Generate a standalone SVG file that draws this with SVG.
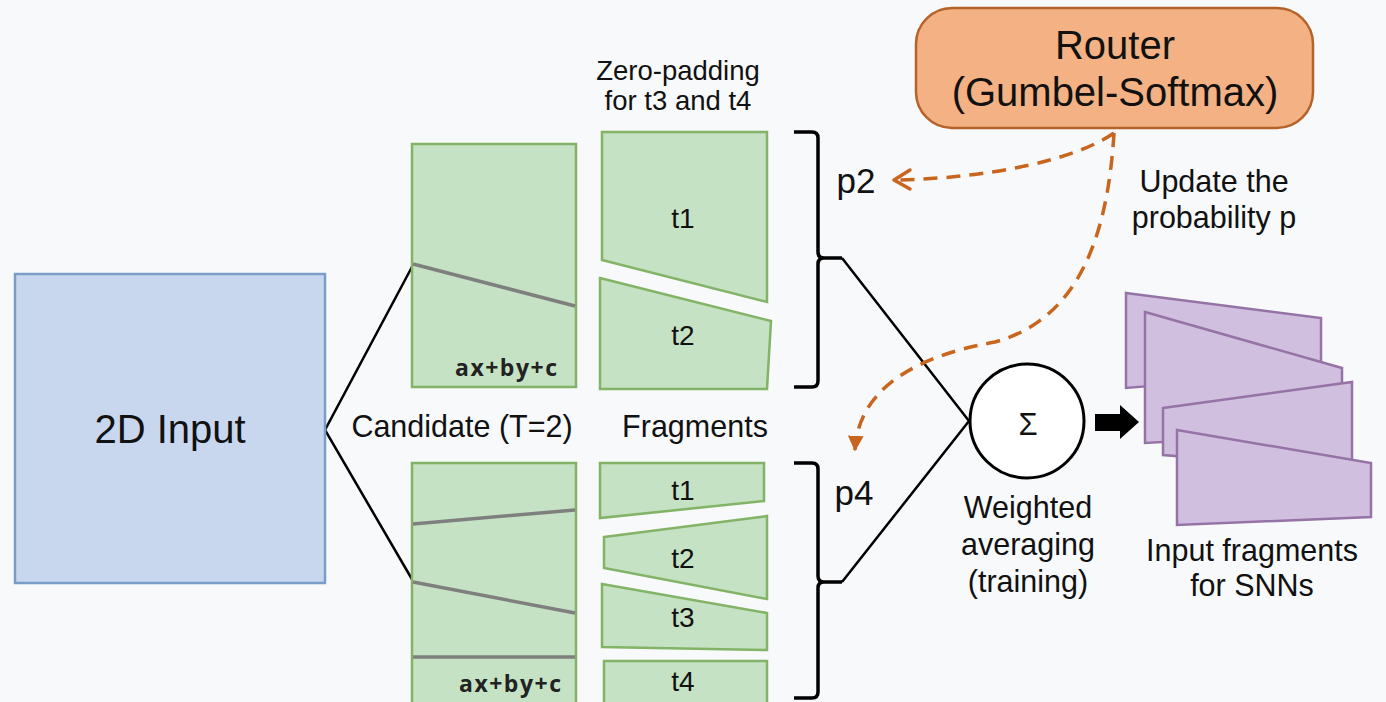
<svg xmlns="http://www.w3.org/2000/svg" width="1386" height="702" viewBox="0 0 1386 702">
  <defs>
    <style>
      .txt { font-family: "Liberation Sans", Arial, sans-serif; fill: #111; text-anchor: middle; }
      .eq { font-family: "Open Sans", "Liberation Sans", sans-serif; font-weight: bold; fill: #222; text-anchor: end; }
      .cand { fill: #c6e2c4; stroke: #82b366; stroke-width: 2.5; }
      .frag { fill: #c6e2c4; stroke: #82b366; stroke-width: 2.5; stroke-linejoin: miter; }
      .cut { stroke: #7f7f7f; stroke-width: 3.5; fill: none; }
      .wire { stroke: #000; stroke-width: 2.5; fill: none; }
      .brace { stroke: #000; stroke-width: 3.5; fill: none; stroke-linejoin: round; }
      .route { stroke: #c8651f; stroke-width: 3.5; fill: none; stroke-dasharray: 14 9; }
      .snn { fill: #d1bfdf; stroke: #9673a6; stroke-width: 2.5; }
    </style>
    <marker id="tri" viewBox="0 0 10 10" refX="9" refY="5" markerWidth="4.5" markerHeight="4.5" orient="auto" markerUnits="strokeWidth">
      <path d="M0,0 L10,5 L0,10 z" fill="#c8651f"/>
    </marker>
  </defs>

  <rect width="1386" height="702" fill="#f8f9fb"/>

  <!-- connectors -->
  <g id="connectors">
    <path class="wire" d="M413,265 L325,430 L413,581"/>
    <path class="wire" d="M842,258 L969,421 L842,582"/>
    <path class="route" d="M1114,133 C1075,160 990,178 897,180"/>
    <path d="M910,170 L894,180 L910,189" fill="none" stroke="#c8651f" stroke-width="3.5" stroke-linecap="round" stroke-linejoin="round"/>
    <path class="route" d="M1114,133 C1108,230 1082,318 995,342 C905,358 858,395 855,450" marker-end="url(#tri)"/>
    <polygon points="1095,414 1120,414 1120,405 1139,422 1120,439 1120,431 1095,431" fill="#000"/>
  </g>

  <!-- 2D input -->
  <g id="input">
    <rect x="15" y="274" width="310" height="309" fill="#c8d7ee" stroke="#7a9cc8" stroke-width="2.5"/>
    <text class="txt" x="170" y="443" font-size="40">2D Input</text>
  </g>

  <!-- candidate with one split (T=2) -->
  <g id="candidate-top">
    <rect class="cand" x="412" y="144" width="164" height="243"/>
    <line class="cut" x1="413" y1="264" x2="575" y2="306"/>
    <text class="eq" x="557" y="376" font-size="23" textLength="102" lengthAdjust="spacing">ax+by+c</text>
  </g>

  <!-- candidate with three splits -->
  <g id="candidate-bottom">
    <rect class="cand" x="412" y="463" width="164" height="260"/>
    <line class="cut" x1="413" y1="524" x2="575" y2="510"/>
    <line class="cut" x1="413" y1="582" x2="575" y2="613"/>
    <line class="cut" x1="413" y1="657" x2="575" y2="657"/>
    <text class="eq" x="561" y="692" font-size="23" textLength="102" lengthAdjust="spacing">ax+by+c</text>
  </g>

  <text class="txt" x="462" y="437" font-size="30.5">Candidate (T=2)</text>
  <text class="txt" x="695" y="437" font-size="30.5">Fragments</text>
  <text class="txt" x="678" y="80" font-size="27.5">Zero-padding</text>
  <text class="txt" x="678" y="110" font-size="27.5">for t3 and t4</text>

  <!-- fragments of the T=2 candidate -->
  <g id="frag-top-t1">
    <polygon class="frag" points="602,132 767,132 767,302 602,260"/>
    <text class="txt" x="683" y="228" font-size="28">t1</text>
  </g>
  <g id="frag-top-t2">
    <polygon class="frag" points="600,278 771,321 767,389 600,389"/>
    <text class="txt" x="683" y="345" font-size="28">t2</text>
  </g>

  <!-- fragments of the four-way candidate -->
  <g id="frag-bot-t1">
    <polygon class="frag" points="600,463 764,463 764,501 600,518"/>
    <text class="txt" x="683" y="500" font-size="28">t1</text>
  </g>
  <g id="frag-bot-t2">
    <polygon class="frag" points="604,537 767,516 767,599 604,568"/>
    <text class="txt" x="683" y="568" font-size="28">t2</text>
  </g>
  <g id="frag-bot-t3">
    <polygon class="frag" points="602,584 767,613 767,650 602,647"/>
    <text class="txt" x="683" y="627" font-size="28">t3</text>
  </g>
  <g id="frag-bot-t4">
    <polygon class="frag" points="604,661 767,661 767,715 604,715"/>
    <text class="txt" x="683" y="691" font-size="28">t4</text>
  </g>

  <!-- braces with probabilities -->
  <g id="brace-p2">
    <path class="brace" d="M794,132 L812,132 Q818,132 818,138 L818,252 Q818,258 824,258 L842,258 M824,258 Q818,258 818,264 L818,381 Q818,387 812,387 L794,387"/>
    <text class="txt" x="856" y="193" font-size="35">p2</text>
  </g>
  <g id="brace-p4">
    <path class="brace" d="M794,463 L812,463 Q818,463 818,469 L818,576 Q818,582 824,582 L842,582 M824,582 Q818,582 818,588 L818,692 Q818,698 812,698 L794,698"/>
    <text class="txt" x="854" y="505" font-size="35">p4</text>
  </g>

  <!-- router -->
  <g id="router">
    <rect x="916" y="8" width="397" height="120" rx="36" ry="36" fill="#f4b183" stroke="#b5632a" stroke-width="2.5"/>
    <text class="txt" x="1115" y="59" font-size="40">Router</text>
    <text class="txt" x="1115" y="106" font-size="40">(Gumbel-Softmax)</text>
  </g>
  <g id="update-label">
    <text class="txt" x="1214" y="192" font-size="30.5">Update the</text>
    <text class="txt" x="1214" y="228" font-size="30.5">probability p</text>
  </g>

  <!-- weighted sum -->
  <g id="sum">
    <circle cx="1027" cy="421" r="57" fill="#fff" stroke="#000" stroke-width="3"/>
    <text class="txt" x="1028" y="435" font-size="31">Σ</text>
    <text class="txt" x="1028" y="518" font-size="30.5">Weighted</text>
    <text class="txt" x="1028" y="555" font-size="30.5">averaging</text>
    <text class="txt" x="1028" y="592" font-size="30.5">(training)</text>
  </g>

  <!-- output fragments -->
  <g id="snn-inputs">
    <polygon class="snn" points="1126,293 1321,318 1321,372 1126,388"/>
    <polygon class="snn" points="1145,312 1342,368 1342,432 1145,443"/>
    <polygon class="snn" points="1163,408 1352,382 1352,470 1163,455"/>
    <polygon class="snn" points="1177,430 1371,463 1371,517 1177,525"/>
    <text class="txt" x="1252" y="561" font-size="30.5">Input fragments</text>
    <text class="txt" x="1252" y="596" font-size="30.5">for SNNs</text>
  </g>
</svg>
